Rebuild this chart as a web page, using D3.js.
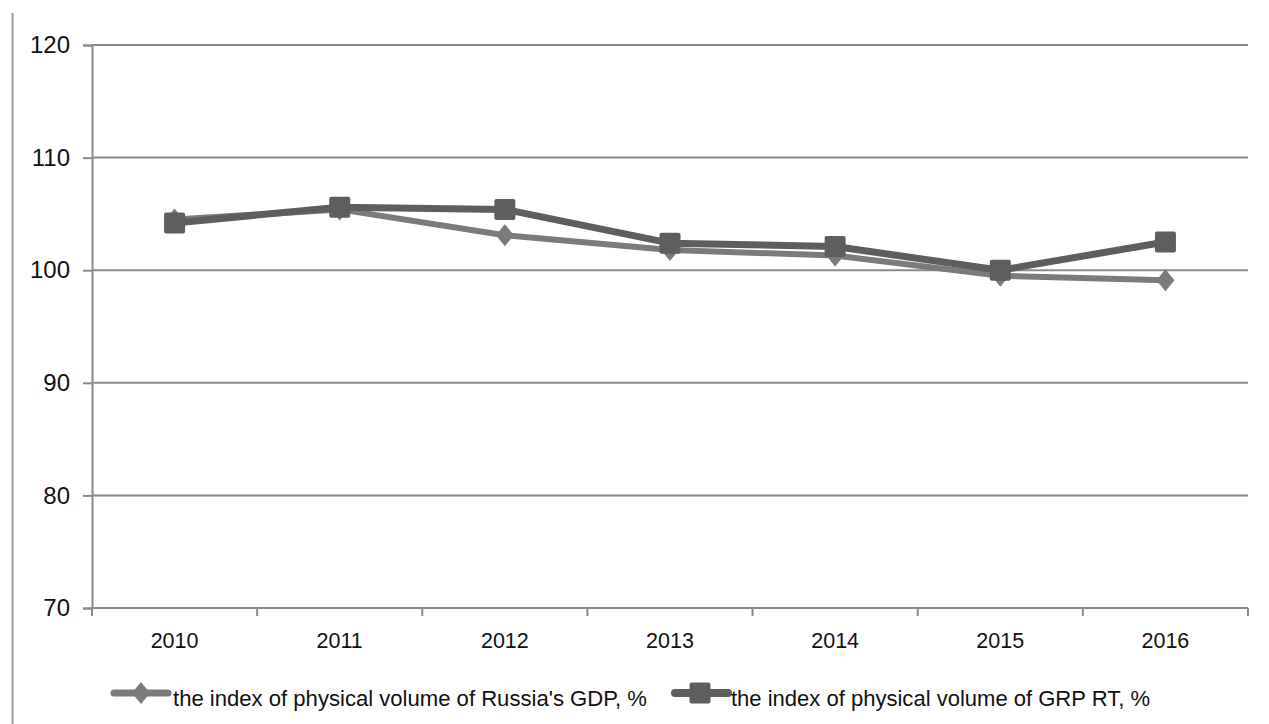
<!DOCTYPE html>
<html>
<head>
<meta charset="utf-8">
<script src="https://cdn.jsdelivr.net/npm/d3@7"></script>
<style>
  html, body { margin: 0; padding: 0; background: #fff; }
  svg { display: block; }
  text { font-family: "Liberation Sans", Arial, sans-serif; fill: #111; }
</style>
</head>
<body>
<svg id="chart" width="1269" height="724"></svg>
<script>
// Years on the category axis
const years = ["2010", "2011", "2012", "2013", "2014", "2015", "2016"];
// Index of physical volume of Russia's GDP, %
const gdpRussia = [104.5, 105.4, 103.1, 101.8, 101.3, 99.5, 99.1];
// Index of physical volume of GRP of the Republic of Tatarstan, %
const grpRT = [104.2, 105.6, 105.4, 102.4, 102.1, 100.0, 102.5];
// Value-axis ticks
const yTicks = [70, 80, 90, 100, 110, 120];
const seriesNames = [
  "the index of physical volume of Russia's GDP, %",
  "the index of physical volume of GRP RT, %"
];

const svg = d3.select("#chart");
const plot = { left: 92, right: 1248, top: 45, bottom: 608 };

const x = d3.scaleBand().domain(years).range([plot.left, plot.right]);
const cx = d => x(d) + x.bandwidth() / 2;
const y = d3.scaleLinear().domain([70, 120]).range([plot.bottom, plot.top]);

const gridColor = "#8a8a8a";

// Outer frame line on the left
svg.append("line")
  .attr("x1", 12.5).attr("x2", 12.5).attr("y1", 13).attr("y2", 724)
  .attr("stroke", "#9a9a9a").attr("stroke-width", 2);

// Horizontal gridlines
svg.append("g").selectAll("line").data(yTicks.filter(t => t > 70)).join("line")
  .attr("x1", plot.left).attr("x2", plot.right)
  .attr("y1", d => y(d)).attr("y2", d => y(d))
  .attr("stroke", gridColor).attr("stroke-width", 2);

// Value axis
const yAxis = d3.axisLeft(y).tickValues(yTicks).tickSize(9).tickPadding(13)
  .tickFormat(d3.format("d"));
const gy = svg.append("g").attr("transform", `translate(${plot.left},0)`).call(yAxis);
gy.select(".domain").attr("stroke", gridColor).attr("stroke-width", 2);
gy.selectAll(".tick line").attr("stroke", gridColor).attr("stroke-width", 2);
gy.selectAll(".tick text").attr("font-size", 24).attr("fill", "#111")
  .attr("font-family", "'Liberation Sans', Arial, sans-serif");

// Category axis: ticks sit on band boundaries, labels at band centres
const gx = svg.append("g");
gx.append("line")
  .attr("x1", plot.left).attr("x2", plot.right)
  .attr("y1", plot.bottom).attr("y2", plot.bottom)
  .attr("stroke", gridColor).attr("stroke-width", 2);
const bounds = years.map(d => x(d)).concat([x(years[years.length - 1]) + x.bandwidth()]);
gx.selectAll("line.tk").data(bounds).join("line").attr("class", "tk")
  .attr("x1", d => d).attr("x2", d => d)
  .attr("y1", plot.bottom).attr("y2", plot.bottom + 8)
  .attr("stroke", gridColor).attr("stroke-width", 2);
gx.selectAll("text").data(years).join("text")
  .attr("x", d => cx(d)).attr("y", 648)
  .attr("text-anchor", "middle").attr("font-size", 21.5)
  .text(d => d);

// Series styles
const colGDP = "#7b7b7b";
const colGRP = "#5e5e5e";

// Diamond symbol, a little wider than d3's built-in one
const diamond = {
  draw(ctx, size) {
    const h = Math.sqrt(size) * 0.78, w = h * 0.82;
    ctx.moveTo(0, -h); ctx.lineTo(w, 0); ctx.lineTo(0, h); ctx.lineTo(-w, 0); ctx.closePath();
  }
};

const line = d3.line().x((d, i) => cx(years[i])).y(d => y(d));

// GDP series (drawn first, underneath)
svg.append("path").datum(gdpRussia)
  .attr("d", line).attr("fill", "none")
  .attr("stroke", colGDP).attr("stroke-width", 6).attr("stroke-linejoin", "round");
svg.append("g").selectAll("path").data(gdpRussia).join("path")
  .attr("transform", (d, i) => `translate(${cx(years[i])},${y(d)})`)
  .attr("d", d3.symbol().type(diamond).size(200))
  .attr("fill", colGDP);

// GRP RT series
svg.append("path").datum(grpRT)
  .attr("d", line).attr("fill", "none")
  .attr("stroke", colGRP).attr("stroke-width", 7).attr("stroke-linejoin", "round");
const sq = 21;
svg.append("g").selectAll("rect").data(grpRT).join("rect")
  .attr("x", (d, i) => cx(years[i]) - sq / 2).attr("y", d => y(d) - sq / 2)
  .attr("width", sq).attr("height", sq).attr("rx", 2)
  .attr("fill", colGRP);

// Legend
const legY = 693;
const lg = svg.append("g");
lg.append("line").attr("x1", 114).attr("x2", 168).attr("y1", legY).attr("y2", legY)
  .attr("stroke", colGDP).attr("stroke-width", 7).attr("stroke-linecap", "round");
lg.append("path").attr("transform", `translate(141,${legY})`)
  .attr("d", d3.symbol().type(diamond).size(200)).attr("fill", colGDP);
lg.append("text").attr("x", 173).attr("y", 706).attr("font-size", 21.5)
  .attr("textLength", 474).attr("lengthAdjust", "spacingAndGlyphs")
  .text(seriesNames[0]);

lg.append("line").attr("x1", 675).attr("x2", 728).attr("y1", legY).attr("y2", legY)
  .attr("stroke", colGRP).attr("stroke-width", 8).attr("stroke-linecap", "round");
lg.append("rect").attr("x", 700 - sq / 2).attr("y", legY - sq / 2)
  .attr("width", sq).attr("height", sq).attr("rx", 2).attr("fill", colGRP);
lg.append("text").attr("x", 731).attr("y", 706).attr("font-size", 21.5)
  .attr("textLength", 419).attr("lengthAdjust", "spacingAndGlyphs")
  .text(seriesNames[1]);
</script>
</body>
</html>
